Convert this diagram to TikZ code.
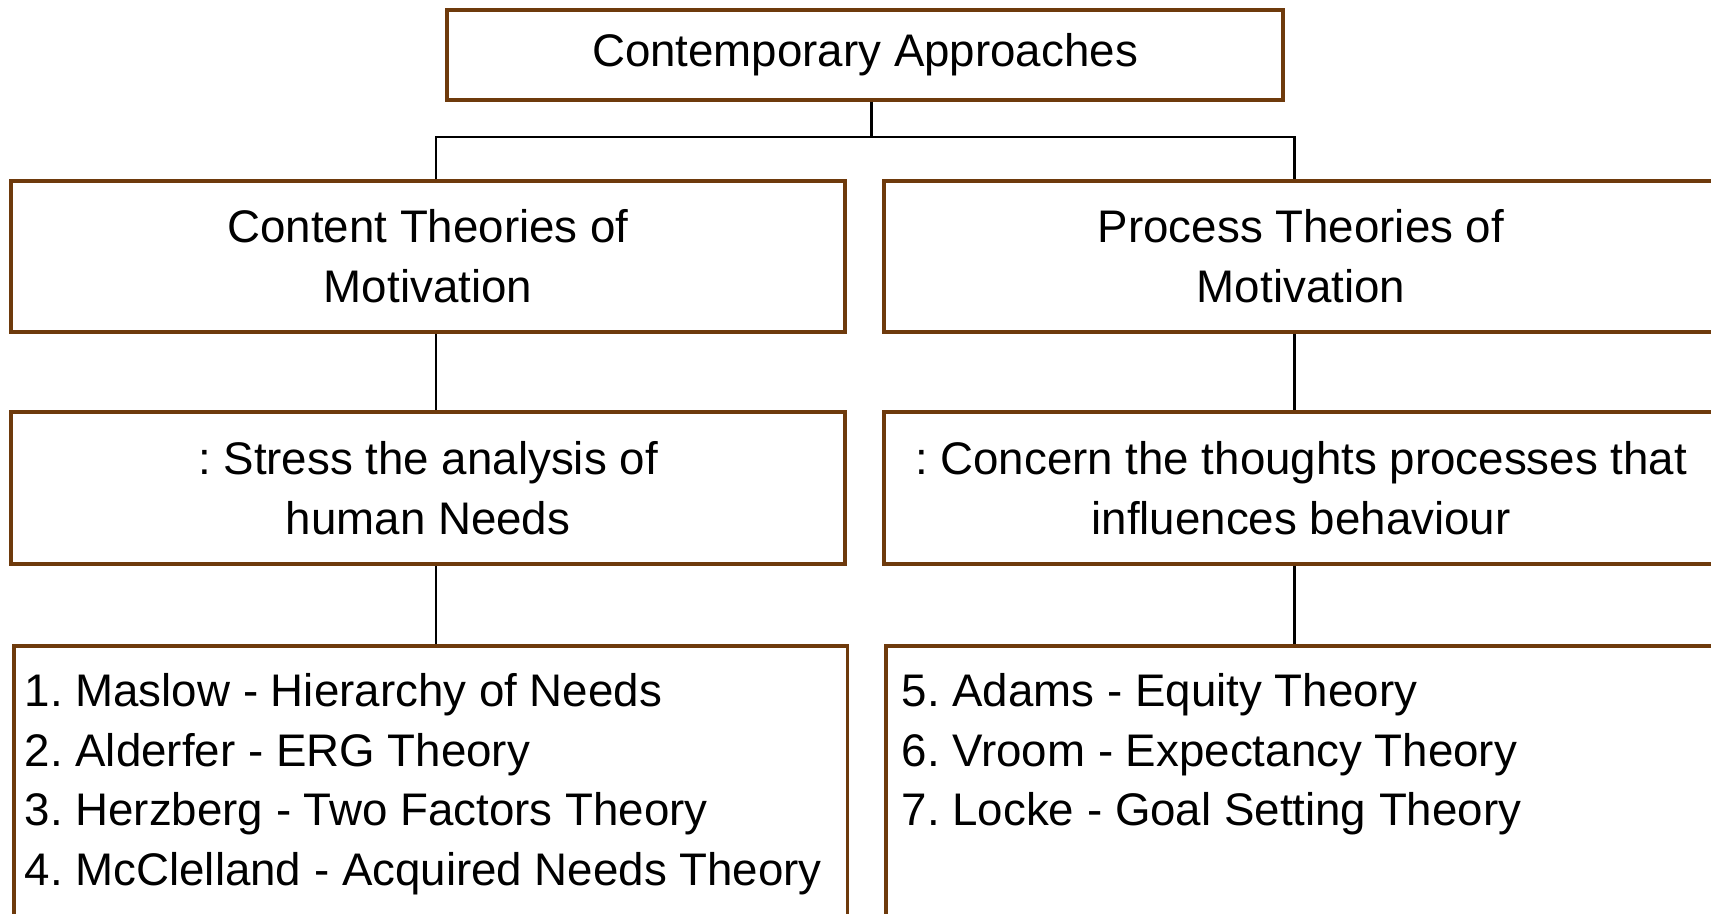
\documentclass[tikz,border=0pt]{standalone}
\usepackage{fontspec}
\setmainfont{Liberation Sans}
\usepackage{xcolor}
\usepackage{tikz}
\usetikzlibrary{positioning, calc}

\definecolor{boxbrown}{RGB}{110,58,12}
\frenchspacing

\begin{document}
\begin{tikzpicture}[x=0.02cm, y=-0.02cm,
    box/.style={draw=boxbrown, line width=2pt, fill=white, align=center,
        font=\fontsize{26}{34}\selectfont, inner sep=0pt},
    link/.style={line width=1.7pt, black}]
        % Page frame
        \useasboundingbox (0,0) rectangle (1711,913);
        \clip (0,0) rectangle (1711,913);

        % Heading box
        \node[box, minimum width=16.72cm, minimum height=1.8cm] (top) at (865,55) {Contemporary Approaches};

        % The two families of theories
        \node[box, minimum width=16.68cm, minimum height=3.02cm] (content) at (428,256.5) {Content Theories of\\Motivation};
        \node[box, minimum width=16.68cm, minimum height=3.02cm] (process) at (1301,256.5) {Process Theories of\\Motivation};

        % What each family looks at
        \node[box, minimum width=16.68cm, minimum height=3.04cm] (contentnote) at (428,488) {: Stress the analysis of\\human Needs};
        \node[box, minimum width=16.68cm, minimum height=3.04cm] (processnote) at (1301,488) {: Concern the thoughts processes that\\influences behaviour};

        % Lists of theories (boxes run past the page)
        \node[box, anchor=north west, align=left, inner xsep=0.22cm, inner ysep=0.55cm] (contentlist) at (12,644)
            {\parbox[t][6cm][t]{16.24cm}{1. Maslow - Hierarchy of Needs\\2. Alderfer - ERG Theory\\3. Herzberg - Two Factors Theory\\4. McClelland - Acquired Needs Theory}};
        \node[box, anchor=north west, align=left, inner xsep=0.32cm, inner ysep=0.55cm] (processlist) at (884,644)
            {\parbox[t][6cm][t]{16.04cm}{5. Adams - Equity Theory\\6. Vroom - Expectancy Theory\\7. Locke - Goal Setting Theory}};

        % Tree connectors
        \coordinate (fork) at (871,137);
        \coordinate (lx) at (436,137);
        \coordinate (rx) at (1294,137);
        \draw[link] (fork |- top.south) -- (fork);
        \draw[link] (content.north -| lx) -- (lx) -- (rx) -- (process.north -| rx);
        \draw[link] (content.south -| lx) -- (contentnote.north -| lx);
        \draw[link] (process.south -| rx) -- (processnote.north -| rx);
        \draw[link] (contentnote.south -| lx) -- (contentlist.north -| lx);
        \draw[link] (processnote.south -| rx) -- (processlist.north -| rx);
    \end{tikzpicture}
\end{document}
